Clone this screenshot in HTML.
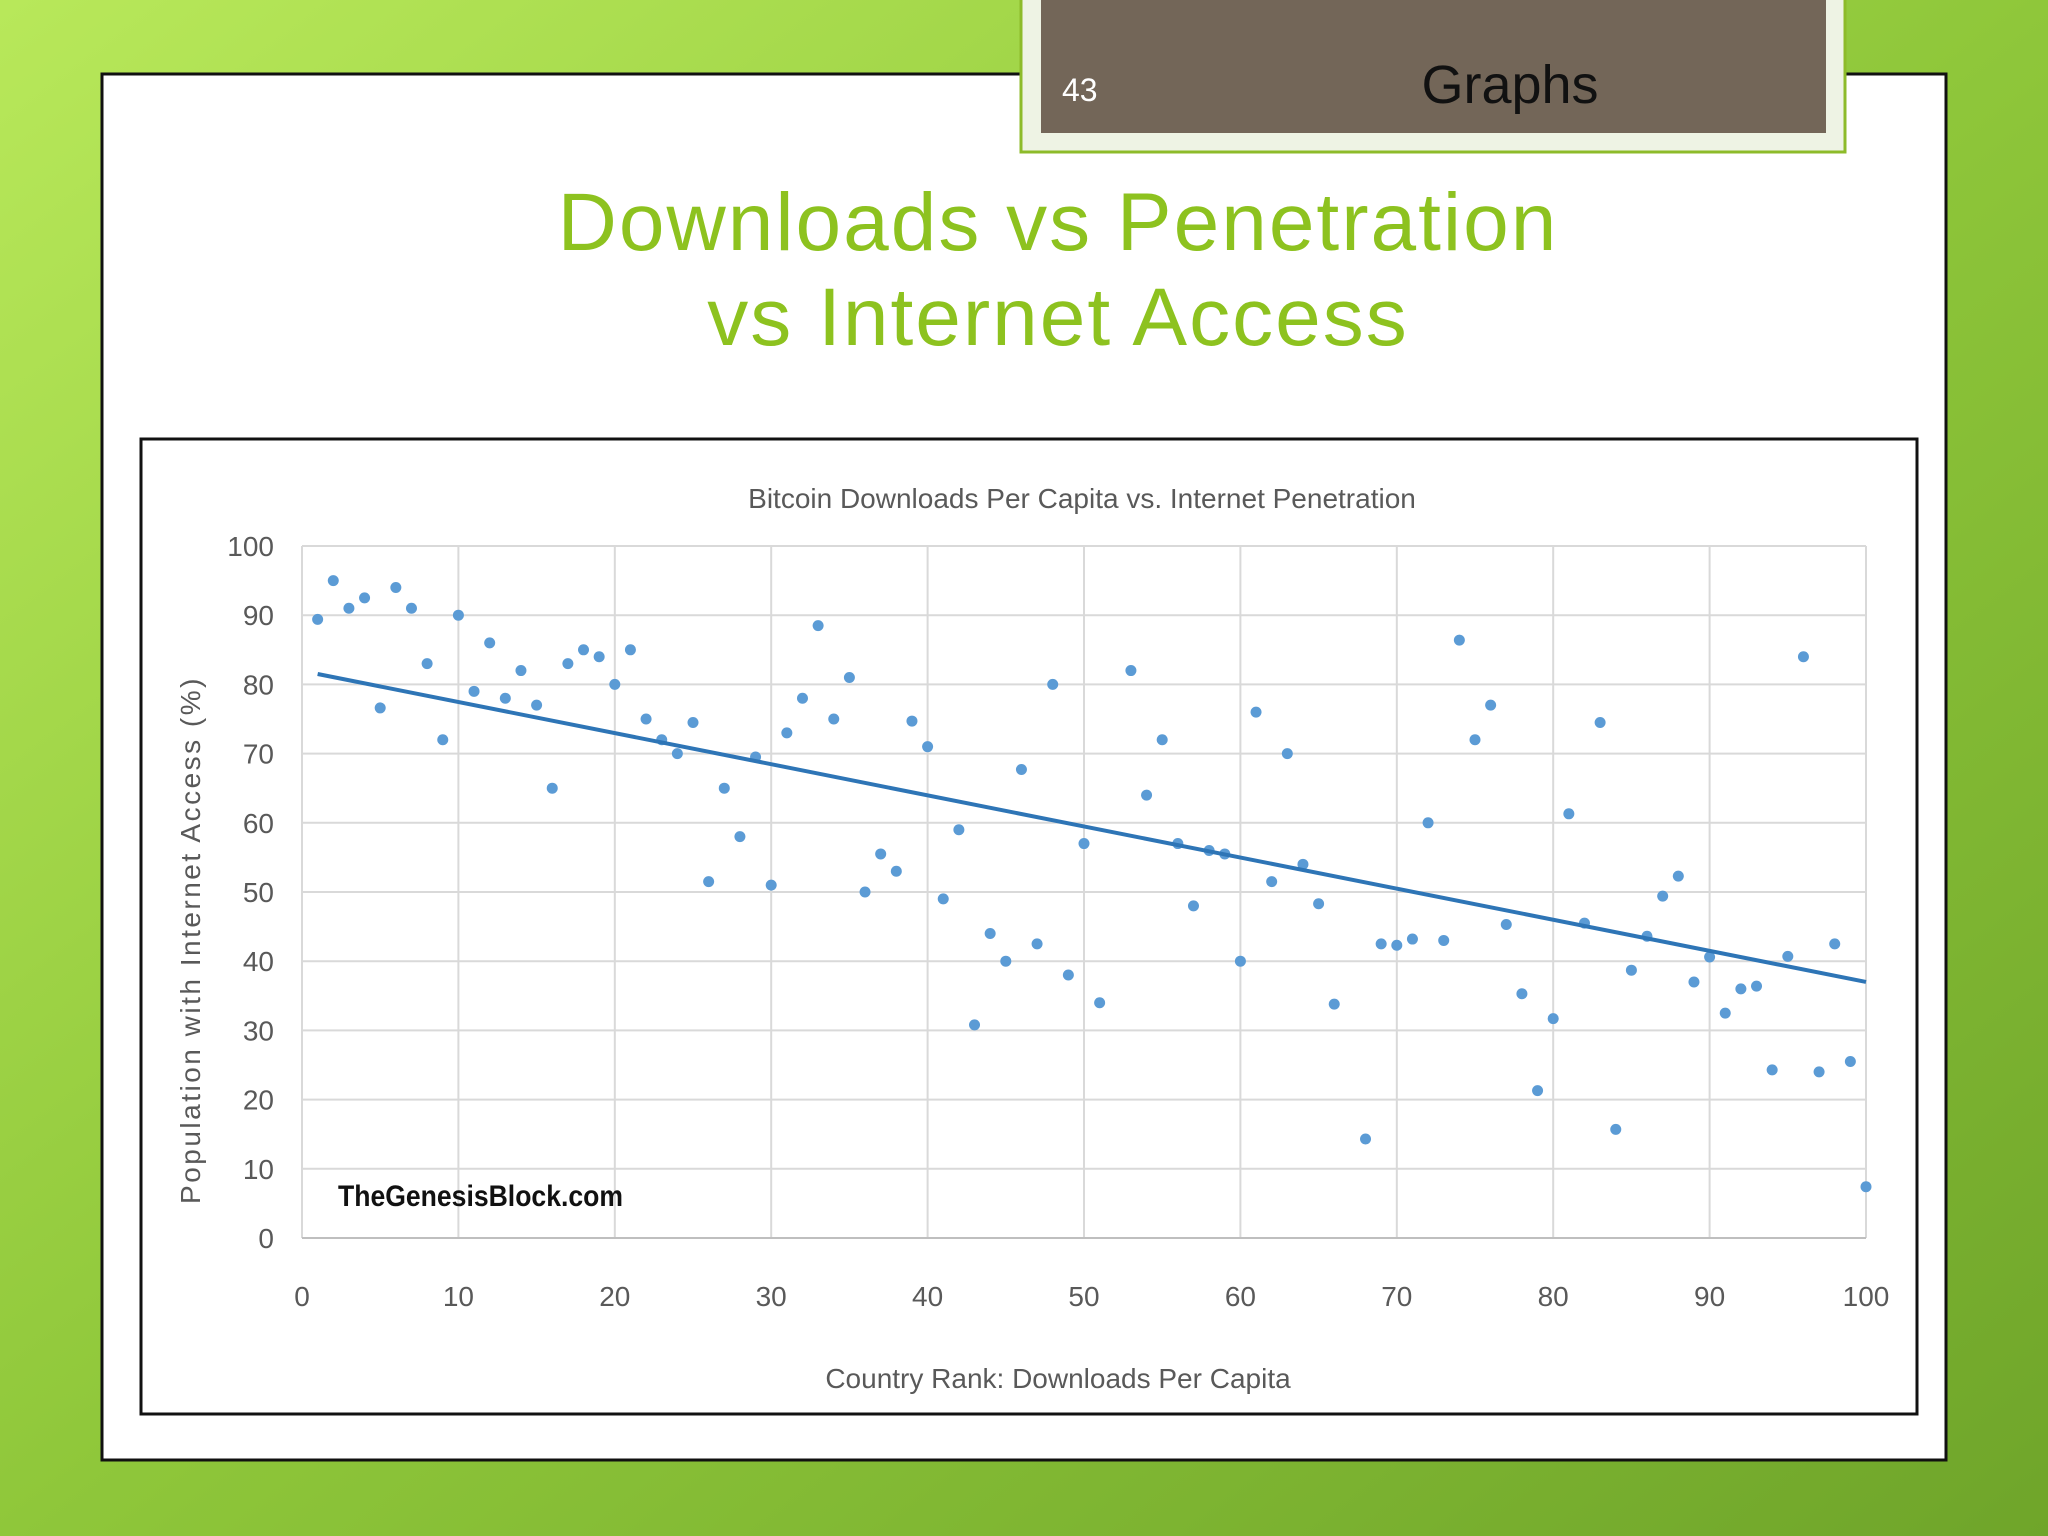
<!DOCTYPE html>
<html><head><meta charset="utf-8"><style>
html,body{margin:0;padding:0;width:2048px;height:1536px;overflow:hidden;font-family:"Liberation Sans",sans-serif}
</style></head><body>
<svg id="s" width="2048" height="1536" viewBox="0 0 2048 1536" xmlns="http://www.w3.org/2000/svg">
<defs>
<linearGradient id="bg" x1="0" y1="0" x2="1" y2="1">
<stop offset="0" stop-color="#b8e85a"/><stop offset="0.5" stop-color="#8fc73a"/><stop offset="1" stop-color="#6fa52a"/>
</linearGradient>
</defs>
<rect width="2048" height="1536" fill="url(#bg)"/>
<rect x="102" y="74" width="1844" height="1386" fill="#fff" stroke="#111" stroke-width="3"/>
<rect x="1021" y="-5" width="824" height="157" fill="#eef3e4" stroke="#8dbb2a" stroke-width="3"/>
<rect x="1041" y="0" width="785" height="133" fill="#736658"/>
<text x="1062" y="101" font-size="32" fill="#fff">43</text>
<text x="1510" y="103" text-anchor="middle" font-size="54" fill="#111">Graphs</text>
<text x="1058" y="250" text-anchor="middle" font-size="82" letter-spacing="2" fill="#8dc21f">Downloads vs Penetration</text>
<text x="1058" y="345" text-anchor="middle" font-size="82" letter-spacing="2" fill="#8dc21f">vs Internet Access</text>
<rect x="141" y="439" width="1776" height="975" fill="#fff" stroke="#111" stroke-width="3"/>
<text x="1082" y="508" text-anchor="middle" font-size="28" fill="#595959">Bitcoin Downloads Per Capita vs. Internet Penetration</text>
<g id="grid"></g><g id="axes"></g><g id="pts"></g>
<text transform="translate(200,940) rotate(-90)" text-anchor="middle" font-size="28" letter-spacing="2.5" fill="#595959">Population with Internet Access (%)</text>
<text x="1058" y="1388" text-anchor="middle" font-size="28" fill="#595959">Country Rank: Downloads Per Capita</text>
<text x="338" y="1206" font-size="30" font-weight="bold" fill="#111" textLength="285" lengthAdjust="spacingAndGlyphs">TheGenesisBlock.com</text>
</svg>
<script>
const ranks=[1,2,3,4,5,6,7,8,9,10,11,12,13,14,15,16,17,18,19,20,21,22,23,24,25,26,27,28,29,30,31,32,33,34,35,36,37,38,39,40,41,42,43,44,45,46,47,48,49,50,51,53,54,55,56,57,58,59,60,61,62,63,64,65,66,68,69,70,71,72,73,74,75,76,77,78,79,80,81,82,83,84,85,86,87,88,89,90,91,92,93,94,95,96,97,98,99,100];
const access=[89.4,95,91,92.5,76.6,94,91,83,72,90,79,86,78,82,77,65,83,85,84,80,85,75,72,70,74.5,51.5,65,58,69.5,51,73,78,88.5,75,81,50,55.5,53,74.7,71,49,59,30.8,44,40,67.7,42.5,80,38,57,34,82,64,72,57,48,56,55.5,40,76,51.5,70,54,48.3,33.8,14.3,42.5,42.3,43.2,60,43,86.4,72,77,45.3,35.3,21.3,31.7,61.3,45.5,74.5,15.7,38.7,43.6,49.4,52.3,37,40.6,32.5,36,36.4,24.3,40.7,84,24,42.5,25.5,7.4];
const trendX=[1,100];
const trendY=[81.5,37];
const xTicks=[0,10,20,30,40,50,60,70,80,90,100];
const yTicks=[0,10,20,30,40,50,60,70,80,90,100];
const NS='http://www.w3.org/2000/svg';
const X0=302,X1=1866,Y0=1238,Y1=546;
const sx=v=>X0+(X1-X0)*v/100, sy=v=>Y0-(Y0-Y1)*v/100;
function mk(tag,at,parent){const e=document.createElementNS(NS,tag);for(const k in at)e.setAttribute(k,at[k]);document.getElementById(parent).appendChild(e);return e;}
xTicks.forEach(t=>{
 const l=mk('line',{x1:sx(t),x2:sx(t),y1:Y1,y2:Y0,stroke:'#d9d9d9','stroke-width':2},'grid');
 
 
 const tx=mk('text',{x:sx(t),y:Y0+68,'text-anchor':'middle','font-size':28,fill:'#595959'},'axes');
 tx.textContent=t;
 
 
});
yTicks.forEach(t=>{
 const l=mk('line',{x1:X0,x2:X1,y1:sy(t),y2:sy(t),stroke:t===0?'#bfbfbf':'#d9d9d9','stroke-width':2},'grid');
 
 
 const tx=mk('text',{x:274,y:sy(t)+10,'text-anchor':'end','font-size':28,fill:'#595959'},'axes');
 tx.textContent=t;
 
 
});
ranks.forEach((r,i)=>{
 const c=mk('circle',{cx:sx(r),cy:sy(access[i]),r:5.5,fill:'#5b9bd5'},'pts');
 
 
});
const tl=mk('line',{x1:sx(trendX[0]),y1:sy(trendY[0]),x2:sx(trendX[1]),y2:sy(trendY[1]),stroke:'#2e75b6','stroke-width':4},'pts');


</script>
</body></html>
